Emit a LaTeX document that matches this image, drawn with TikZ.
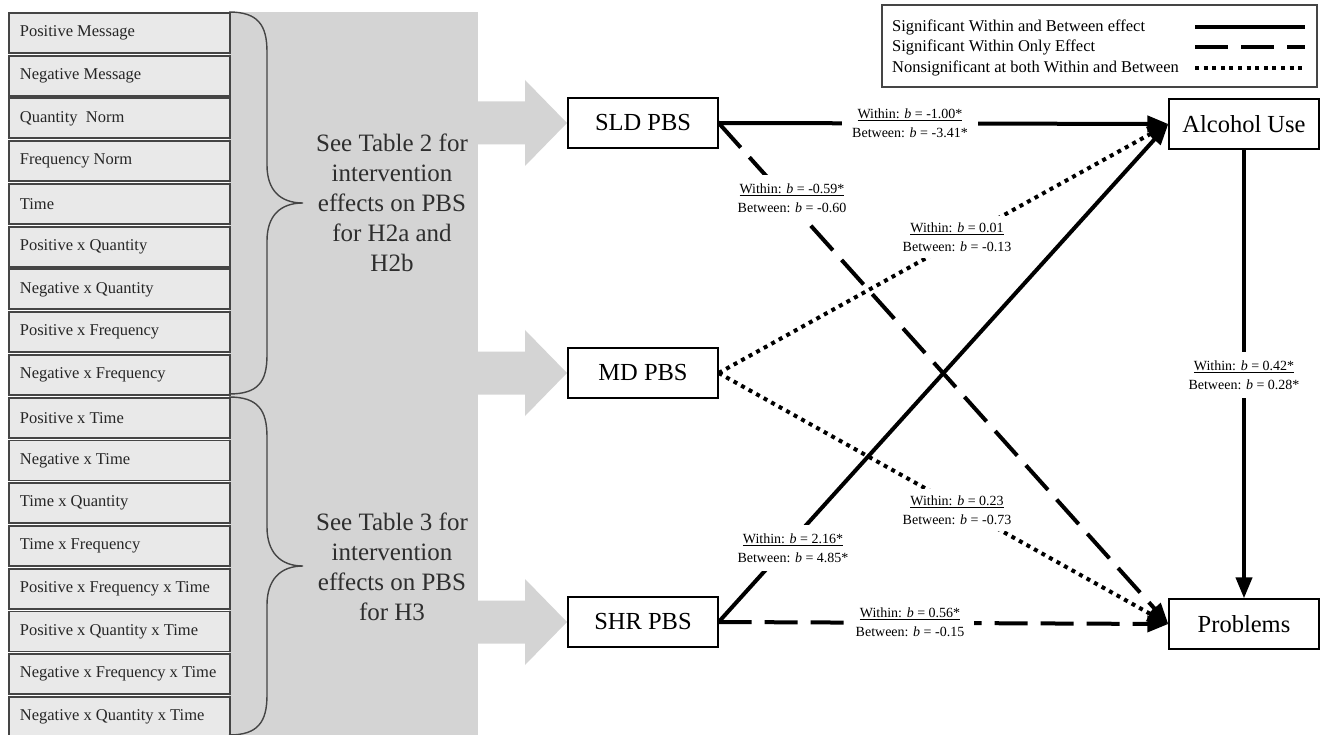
\documentclass[tikz,border=0pt]{standalone}
\usepackage{fontspec}
\setmainfont{Liberation Serif}
\usetikzlibrary{arrows.meta,calc}
\definecolor{boxfill}{HTML}{E9E9E9}
\definecolor{boxline}{HTML}{454545}
\definecolor{panel}{HTML}{D4D4D4}
\definecolor{listtext}{HTML}{262626}
\definecolor{bigtext}{HTML}{2E2E2E}
\begin{document}
\begin{tikzpicture}[x=1pt,y=-1pt,
  listbox/.style={draw=boxline, line width=1.8pt, fill=boxfill, anchor=north west,
    minimum width=221pt, minimum height=40pt, inner xsep=11pt,
    text=listtext, font=\fontsize{16.5}{20}\selectfont},
  brace/.style={draw=boxline, line width=1.4pt},
  varbox/.style={draw=black, line width=1.3pt, fill=white, minimum width=150pt,
    minimum height=50pt, inner sep=0pt, font=\fontsize{24.5}{29}\selectfont},
  conn/.style={line width=4pt, -{Triangle[length=21pt,width=16pt]}},
  sigboth/.style={conn},
  sigwithin/.style={conn, dash pattern=on 33pt off 13pt},
  nonsig/.style={conn, dash pattern=on 4pt off 4.6pt},
  lbl/.style={fill=white, align=center, inner xsep=10pt, inner ysep=4pt,
    font=\fontsize{14}{19}\selectfont},
  legtext/.style={anchor=west, inner sep=0pt, font=\fontsize{16.5}{20}\selectfont},
  bigtxt/.style={align=center, text=bigtext, font=\fontsize{25}{30}\selectfont}
]
\useasboundingbox[fill=white] (0,0) rectangle (1320,735);

% gray panel
\fill[panel] (229,12) rectangle (478,735);

% block arrows
\foreach \cy in {123,373,622}{
  \fill[panel] (470,\cy-21.5) -- (525,\cy-21.5) -- (525,\cy-43) -- (567,\cy)
    -- (525,\cy+43) -- (525,\cy+21.5) -- (470,\cy+21.5) -- cycle;
}

% list boxes
\foreach \t [count=\i from 0] in {Positive Message, Negative Message, Quantity\ \ Norm,
  Frequency Norm, Time, Positive x Quantity, Negative x Quantity, Positive x Frequency,
  Negative x Frequency, Positive x Time, Negative x Time, Time x Quantity, Time x Frequency,
  Positive x Frequency x Time, Positive x Quantity x Time, Negative x Frequency x Time,
  Negative x Quantity x Time}{
  \node[listbox] (l\i) at (8,{12+42.75*\i}) {\makebox[199pt][l]{\t}};
}

% braces
\draw[brace] (229,12) .. controls (258,12) and (267,25) .. (267,52) -- (267,165)
  .. controls (267,190) and (280,203) .. (303,203)
  .. controls (280,203) and (267,216) .. (267,241) -- (267,355)
  .. controls (267,382) and (258,394) .. (229,394);
\draw[brace] (229,397) .. controls (258,397) and (267,410) .. (267,437) -- (267,527)
  .. controls (267,552) and (280,566) .. (303,566)
  .. controls (280,566) and (267,580) .. (267,605) -- (267,695)
  .. controls (267,722) and (258,735) .. (229,735);

% panel texts
\node[bigtxt] (t2) at (392,203) {See Table 2 for\\intervention\\effects on PBS\\for H2a and\\H2b};
\node[bigtxt] (t3) at (392,567) {See Table 3 for\\intervention\\effects on PBS\\for H3};

% variable boxes
\node[varbox] (sld) at (643,123) {SLD PBS};
\node[varbox] (md)  at (643,373) {MD PBS};
\node[varbox] (shr) at (643,622) {SHR PBS};
\node[varbox] (alc) at (1244,124) {Alcohol Use};
\node[varbox] (prob) at (1244,624) {Problems};

% connectors
\draw[sigwithin] (sld.east) -- (prob.west);
\draw[nonsig] (md.east) -- (alc.west);
\draw[nonsig] (md.east) -- (prob.west);
\draw[sigwithin] (shr.east) -- (prob.west);
\draw[sigboth] (shr.east) -- (alc.west);
\draw[sigboth] (sld.east) -- (alc.west);
\draw[sigboth] (alc.south) -- (prob.north);

% labels
\node[lbl] (e1) at (910,123) {\underline{Within: \textit{b} = -1.00*}\\Between: \textit{b} = -3.41*};
\node[lbl, inner ysep=9pt] (e2) at (792,198) {\underline{Within: \textit{b} = -0.59*}\\Between: \textit{b} = -0.60};
\node[lbl, inner ysep=7pt] (e3) at (957,237) {\underline{Within: \textit{b} = 0.01}\\Between: \textit{b} = -0.13};
\node[lbl, inner ysep=7pt] (e4) at (957,510) {\underline{Within: \textit{b} = 0.23}\\Between: \textit{b} = -0.73};
\node[lbl, inner ysep=9pt] (e5) at (793,548) {\underline{Within: \textit{b} = 2.16*}\\Between: \textit{b} = 4.85*};
\node[lbl] (e6) at (910,622) {\underline{Within: \textit{b} = 0.56*}\\Between: \textit{b} = -0.15};
\node[lbl, inner ysep=9pt] (e7) at (1244,375) {\underline{Within: \textit{b} = 0.42*}\\Between: \textit{b} = 0.28*};

% legend
\draw[draw=boxline, line width=1.4pt, fill=white] (882,5) rectangle (1317,87);
\node[legtext] (g1) at (892,27) {Significant Within and Between effect};
\node[legtext] (g2) at (892,47) {Significant Within Only Effect};
\node[legtext] (g3) at (892,68) {Nonsignificant at both Within and Between};
\coordinate (s1a) at (1195,27); \coordinate (s1b) at (1305,27);
\coordinate (s2a) at (1195,47); \coordinate (s2b) at (1305,47);
\coordinate (s3a) at (1195,68); \coordinate (s3b) at (1305,68);
\draw[line width=4pt] (s1a) -- (s1b);
\draw[line width=4pt, dash pattern=on 33pt off 13pt] (s2a) -- (s2b);
\draw[line width=4pt, dash pattern=on 4pt off 4.6pt] (s3a) -- (s3b);
\end{tikzpicture}
\end{document}
